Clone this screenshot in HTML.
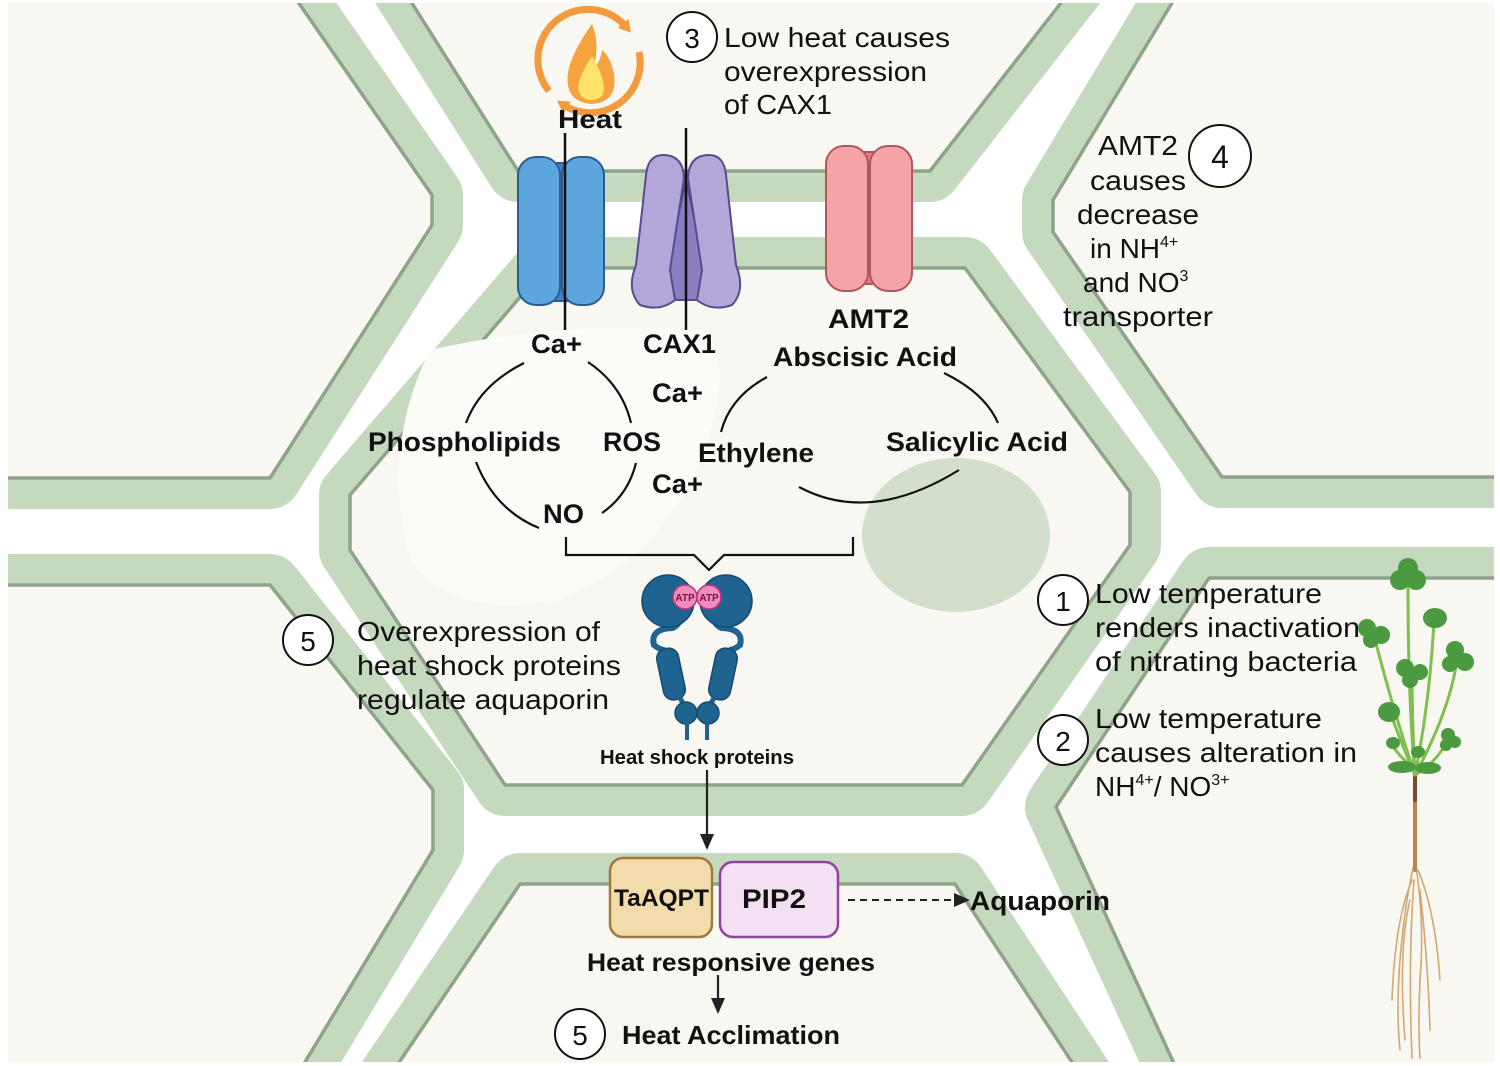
<!DOCTYPE html>
<html><head><meta charset="utf-8"><style>
html,body{margin:0;padding:0;background:#fff;width:1500px;height:1066px;overflow:hidden;}
svg{display:block;}
text{font-family:"Liberation Sans",Arial,sans-serif;fill:#111;}
.b{font-weight:bold;}
</style></head><body>
<svg width="1500" height="1066" viewBox="0 0 1500 1066" xmlns="http://www.w3.org/2000/svg">
<defs>
<marker id="ah2" markerWidth="16" markerHeight="14" refX="14" refY="7" orient="auto" markerUnits="userSpaceOnUse"><path d="M0,0 L16,7 L0,14 Z" fill="#222"/></marker>
<marker id="oa" markerWidth="14" markerHeight="14" refX="6" refY="7" orient="auto" markerUnits="userSpaceOnUse"><path d="M0,0 L12,7 L0,14 Z" fill="#f39a3d"/></marker>
</defs>
<rect width="1500" height="1066" fill="#fff"/>
<g stroke-linejoin="round">
<g fill="none" stroke="#c5d9bf" stroke-width="62">
<path d="M-60,-60 L255,-60 L432,195 L432,225 L270,478 L-60,478 Z"/>
<path d="M372,-60 L518,171 L930,171 L1110,-60 Z"/>
<path d="M545,268 L965,268 L1130,492 L1130,545 L962,785 L505,785 L350,550 L350,495 Z"/>
<path d="M-60,585 L270,585 L433,790 L433,850 L270,1120 L-60,1120 Z"/>
<path d="M360,1120 L520,884 L955,884 L1110,1120 Z"/>
<path d="M1210,-60 L1053,200 L1053,232 L1222,477 L1560,477 L1560,-60 Z"/>
<path d="M1560,578 L1209,578 L1056,807 L1200,1120 L1560,1120 Z"/>
</g>
<g fill="#f8f7f1" stroke="#8ea48a" stroke-width="3.5">
<path d="M-60,-60 L255,-60 L432,195 L432,225 L270,478 L-60,478 Z"/>
<path d="M372,-60 L518,171 L930,171 L1110,-60 Z"/>
<path d="M545,268 L965,268 L1130,492 L1130,545 L962,785 L505,785 L350,550 L350,495 Z"/>
<path d="M-60,585 L270,585 L433,790 L433,850 L270,1120 L-60,1120 Z"/>
<path d="M360,1120 L520,884 L955,884 L1110,1120 Z"/>
<path d="M1210,-60 L1053,200 L1053,232 L1222,477 L1560,477 L1560,-60 Z"/>
<path d="M1560,578 L1209,578 L1056,807 L1200,1120 L1560,1120 Z"/>
</g>
</g>
<path d="M430,350 Q560,320 700,330 Q740,360 700,460 Q660,560 560,600 Q450,620 410,560 Q380,450 430,350 Z" fill="#fbfbf8"/>
<ellipse cx="956" cy="535" rx="94" ry="77" fill="#d3dfcc"/>
<rect x="0" y="0" width="8" height="1066" fill="#fff"/>
<rect x="1494" y="0" width="6" height="1066" fill="#fff"/>
<rect x="0" y="0" width="1500" height="3" fill="#fff"/>
<rect x="0" y="1062" width="1500" height="4" fill="#fff"/>

<!-- heat icon -->
<path d="M549,91 A50,50 0 0 1 627,28" fill="none" stroke="#f39a3d" stroke-width="7" marker-end="url(#oa)"/>
<path d="M639,52 A50,50 0 0 1 562,104" fill="none" stroke="#f39a3d" stroke-width="7" marker-end="url(#oa)"/>
<path d="M592,24 Q572,52 568,72 Q564,102 592,104 Q618,102 614,74 Q610,56 602,50 Q600,64 594,66 Q600,44 592,24 Z" fill="#f5a33f"/>
<path d="M592,56 Q578,78 578,88 Q580,100 592,100 Q604,99 604,88 Q603,74 592,56 Z" fill="#fde36a"/>
<text x="558" y="128" class="b" font-size="26" textLength="64" lengthAdjust="spacingAndGlyphs">Heat</text>

<!-- blue channel -->
<rect x="545" y="163" width="32" height="138" fill="#3d82c4" stroke="#2b5d8e" stroke-width="2"/>
<rect x="518" y="157" width="42" height="148" rx="18" fill="#5ca5dd" stroke="#2b5d8e" stroke-width="2"/>
<rect x="562" y="157" width="42" height="148" rx="18" fill="#5ca5dd" stroke="#2b5d8e" stroke-width="2"/>
<line x1="565" y1="133" x2="565" y2="330" stroke="#111" stroke-width="2.5"/>
<!-- purple channel -->
<path d="M686,180 L712,300 L660,300 Z" fill="#8c7dc2" stroke="#5a4a8e" stroke-width="2"/>
<path d="M663,155 Q648,155 646,175 L636,265 Q626,290 640,305 Q660,312 675,300 L670,270 L684,178 Q683,155 663,155 Z" fill="#b2a7d8" stroke="#5a4a8e" stroke-width="2"/>
<path d="M709,155 Q724,155 726,175 L736,265 Q746,290 732,305 Q712,312 697,300 L702,270 L688,178 Q689,155 709,155 Z" fill="#b2a7d8" stroke="#5a4a8e" stroke-width="2"/>
<line x1="686" y1="128" x2="686" y2="330" stroke="#111" stroke-width="2.5"/>
<!-- pink channel -->
<rect x="852" y="152" width="34" height="132" fill="#e57f85" stroke="#b0575d" stroke-width="2"/>
<rect x="826" y="146" width="42" height="145" rx="18" fill="#f4a3a6" stroke="#b0575d" stroke-width="2"/>
<rect x="870" y="146" width="42" height="145" rx="18" fill="#f4a3a6" stroke="#b0575d" stroke-width="2"/>

<circle cx="692" cy="37" r="25" fill="#fff" stroke="#111" stroke-width="2"/>
<text x="692" y="48" font-size="28" text-anchor="middle">3</text>
<text x="724" y="47" font-size="28" textLength="226" lengthAdjust="spacingAndGlyphs">Low heat causes</text>
<text x="724" y="81" font-size="28" textLength="203" lengthAdjust="spacingAndGlyphs">overexpression</text>
<text x="724" y="114" font-size="28" textLength="108" lengthAdjust="spacingAndGlyphs">of CAX1</text>

<g font-size="27">
<text x="531" y="353" textLength="51" lengthAdjust="spacingAndGlyphs" class="b">Ca+</text>
<text x="643" y="353" textLength="73" lengthAdjust="spacingAndGlyphs" class="b">CAX1</text>
<text x="828" y="328" textLength="81" lengthAdjust="spacingAndGlyphs" class="b">AMT2</text>
<text x="773" y="366" textLength="184" lengthAdjust="spacingAndGlyphs" class="b">Abscisic Acid</text>
<text x="652" y="402" textLength="51" lengthAdjust="spacingAndGlyphs" class="b">Ca+</text>
<text x="368" y="451" textLength="193" lengthAdjust="spacingAndGlyphs" class="b">Phospholipids</text>
<text x="603" y="451" textLength="58" lengthAdjust="spacingAndGlyphs" class="b">ROS</text>
<text x="698" y="462" textLength="116" lengthAdjust="spacingAndGlyphs" class="b">Ethylene</text>
<text x="886" y="451" textLength="182" lengthAdjust="spacingAndGlyphs" class="b">Salicylic Acid</text>
<text x="652" y="493" textLength="51" lengthAdjust="spacingAndGlyphs" class="b">Ca+</text>
<text x="543" y="523" textLength="41" lengthAdjust="spacingAndGlyphs" class="b">NO</text>
</g>

<g fill="none" stroke="#111" stroke-width="2.2">
<path d="M524,363 Q480,385 466,423"/>
<path d="M588,362 Q622,385 631,423"/>
<path d="M476,462 Q495,510 539,528"/>
<path d="M636,463 Q628,495 602,513"/>
<path d="M767,377 Q730,397 721,432"/>
<path d="M944,373 Q985,393 998,423"/>
<path d="M799,487 Q870,525 959,470"/>
</g>
<path d="M566,537 L566,555 L694,555 L709,570 L724,555 L853,555 L853,537" fill="none" stroke="#111" stroke-width="2.2"/>

<g fill="#1f6390" stroke="#154a6e" stroke-width="1.5">
<path d="M690,602 Q678,630 670,628 Q650,630 654,645 Q660,650 665,650" fill="none" stroke="#1f6390" stroke-width="6"/>
<path d="M704,602 Q716,630 724,628 Q744,630 740,645 Q734,650 729,650" fill="none" stroke="#1f6390" stroke-width="6"/>
<circle cx="668" cy="601" r="26"/>
<circle cx="726" cy="601" r="26"/>
<rect x="660" y="648" width="22" height="52" rx="10" transform="rotate(-12 671 674)"/>
<rect x="712" y="648" width="22" height="52" rx="10" transform="rotate(12 723 674)"/>
<line x1="680" y1="698" x2="688" y2="712" stroke="#1f6390" stroke-width="5"/>
<line x1="714" y1="698" x2="706" y2="712" stroke="#1f6390" stroke-width="5"/>
<circle cx="686" cy="713" r="11"/>
<circle cx="708" cy="713" r="11"/>
<line x1="687" y1="720" x2="687" y2="740" stroke="#1f6390" stroke-width="4"/>
<line x1="707" y1="720" x2="707" y2="740" stroke="#1f6390" stroke-width="4"/>
</g>
<circle cx="685" cy="597" r="12" fill="#f08cbd" stroke="#c2307a" stroke-width="1.5"/>
<circle cx="709" cy="597" r="12" fill="#f08cbd" stroke="#c2307a" stroke-width="1.5"/>
<text x="685" y="601" font-size="10" text-anchor="middle" style="fill:#7a1040" class="b">ATP</text>
<text x="709" y="601" font-size="10" text-anchor="middle" style="fill:#7a1040" class="b">ATP</text>
<text x="600" y="764" class="b" font-size="20" textLength="194" lengthAdjust="spacingAndGlyphs">Heat shock proteins</text>

<line x1="707" y1="770" x2="707" y2="848" stroke="#222" stroke-width="2.2" marker-end="url(#ah2)"/>
<rect x="610" y="858" width="102" height="79" rx="13" fill="#f2dcac" stroke="#9f7a3c" stroke-width="2.5"/>
<rect x="720" y="862" width="118" height="75" rx="13" fill="#f3e1f3" stroke="#8e44a0" stroke-width="2.5"/>
<text x="614" y="906" class="b" font-size="24" textLength="95" lengthAdjust="spacingAndGlyphs">TaAQPT</text>
<text x="742" y="908" class="b" font-size="27" textLength="64" lengthAdjust="spacingAndGlyphs">PIP2</text>
<line x1="848" y1="900" x2="968" y2="900" stroke="#222" stroke-width="2" stroke-dasharray="7,5" marker-end="url(#ah2)"/>
<text x="970" y="910" class="b" font-size="27" textLength="140" lengthAdjust="spacingAndGlyphs">Aquaporin</text>
<text x="587" y="971" class="b" font-size="25" textLength="288" lengthAdjust="spacingAndGlyphs">Heat responsive genes</text>
<line x1="718" y1="975" x2="718" y2="1012" stroke="#222" stroke-width="2.2" marker-end="url(#ah2)"/>
<circle cx="580" cy="1034" r="25" fill="#fff" stroke="#111" stroke-width="2"/>
<text x="580" y="1045" font-size="28" text-anchor="middle">5</text>
<text x="622" y="1044" class="b" font-size="26" textLength="218" lengthAdjust="spacingAndGlyphs">Heat Acclimation</text>

<circle cx="308" cy="640" r="25" fill="#fff" stroke="#111" stroke-width="2"/>
<text x="308" y="651" font-size="28" text-anchor="middle">5</text>
<text x="357" y="641" font-size="28" textLength="243" lengthAdjust="spacingAndGlyphs">Overexpression of</text>
<text x="357" y="675" font-size="28" textLength="264" lengthAdjust="spacingAndGlyphs">heat shock proteins</text>
<text x="357" y="709" font-size="28" textLength="252" lengthAdjust="spacingAndGlyphs">regulate aquaporin</text>

<circle cx="1220" cy="156" r="31" fill="#fff" stroke="#111" stroke-width="2"/>
<text x="1220" y="168" font-size="32" text-anchor="middle">4</text>
<g font-size="28">
<text x="1098" y="155" textLength="80" lengthAdjust="spacingAndGlyphs">AMT2</text>
<text x="1090" y="190" textLength="96" lengthAdjust="spacingAndGlyphs">causes</text>
<text x="1077" y="224" textLength="122" lengthAdjust="spacingAndGlyphs">decrease</text>
<text x="1090" y="258">in NH<tspan font-size="16" dy="-11">4+</tspan></text>
<text x="1083" y="292">and NO<tspan font-size="16" dy="-11">3</tspan></text>
<text x="1063" y="326" textLength="150" lengthAdjust="spacingAndGlyphs">transporter</text>
</g>

<circle cx="1063" cy="600" r="25" fill="#fff" stroke="#111" stroke-width="2"/>
<text x="1063" y="611" font-size="28" text-anchor="middle">1</text>
<circle cx="1063" cy="740" r="25" fill="#fff" stroke="#111" stroke-width="2"/>
<text x="1063" y="751" font-size="28" text-anchor="middle">2</text>
<g font-size="28">
<text x="1095" y="603" textLength="227" lengthAdjust="spacingAndGlyphs">Low temperature</text>
<text x="1095" y="637" textLength="265" lengthAdjust="spacingAndGlyphs">renders inactivation</text>
<text x="1095" y="671" textLength="262" lengthAdjust="spacingAndGlyphs">of nitrating bacteria</text>
<text x="1095" y="728" textLength="227" lengthAdjust="spacingAndGlyphs">Low temperature</text>
<text x="1095" y="762" textLength="262" lengthAdjust="spacingAndGlyphs">causes alteration in</text>
<text x="1095" y="796">NH<tspan font-size="16" dy="-11">4+</tspan><tspan dy="11">/ NO</tspan><tspan font-size="16" dy="-11">3+</tspan></text>
</g>

<g fill="none" stroke-linecap="round">
<g stroke="#d2a772" stroke-width="1.6">
<path d="M1415,860 Q1405,900 1400,960 Q1396,1010 1400,1050"/>
<path d="M1415,860 Q1425,920 1420,980 Q1418,1030 1420,1058"/>
<path d="M1412,880 Q1395,920 1392,1000"/>
<path d="M1418,870 Q1435,910 1440,980"/>
<path d="M1410,900 Q1398,950 1405,1040"/>
<path d="M1420,890 Q1428,960 1430,1030"/>
<path d="M1414,880 Q1408,960 1412,1058"/>
</g>
<path d="M1415,773 L1415,870" stroke="#b88550" stroke-width="4"/>
<path d="M1415,773 L1415,800" stroke="#7a4a2a" stroke-width="4"/>
<g stroke="#7fbf4d" stroke-width="3">
<path d="M1415,775 Q1408,700 1408,585"/>
<path d="M1415,775 Q1430,700 1434,620"/>
<path d="M1415,775 Q1390,700 1374,635"/>
<path d="M1415,775 Q1450,710 1457,660"/>
<path d="M1415,775 Q1412,720 1412,670"/>
<path d="M1415,775 Q1400,740 1390,712"/>
<path d="M1415,775 Q1440,760 1450,735"/>
<path d="M1415,770 Q1398,755 1392,745"/>
</g>
</g>
<g fill="#4b9a40">
<circle cx="1400" cy="580" r="10"/><circle cx="1416" cy="580" r="10"/><circle cx="1408" cy="568" r="10"/>
<ellipse cx="1435" cy="618" rx="12" ry="10"/>
<circle cx="1367" cy="628" r="9"/><circle cx="1381" cy="635" r="9"/><circle cx="1371" cy="640" r="8"/>
<circle cx="1455" cy="650" r="9"/><circle cx="1465" cy="662" r="9"/><circle cx="1450" cy="664" r="8"/>
<circle cx="1405" cy="668" r="9"/><circle cx="1420" cy="672" r="8"/><circle cx="1410" cy="680" r="8"/>
<ellipse cx="1389" cy="712" rx="11" ry="10"/>
<circle cx="1448" cy="735" r="7"/><circle cx="1455" cy="742" r="6"/><circle cx="1446" cy="745" r="6"/>
<ellipse cx="1393" cy="743" rx="7" ry="6"/>
<ellipse cx="1402" cy="767" rx="14" ry="6"/><ellipse cx="1428" cy="768" rx="13" ry="6"/>
<ellipse cx="1418" cy="752" rx="7" ry="6"/>
</g>
</svg>
</body></html>
